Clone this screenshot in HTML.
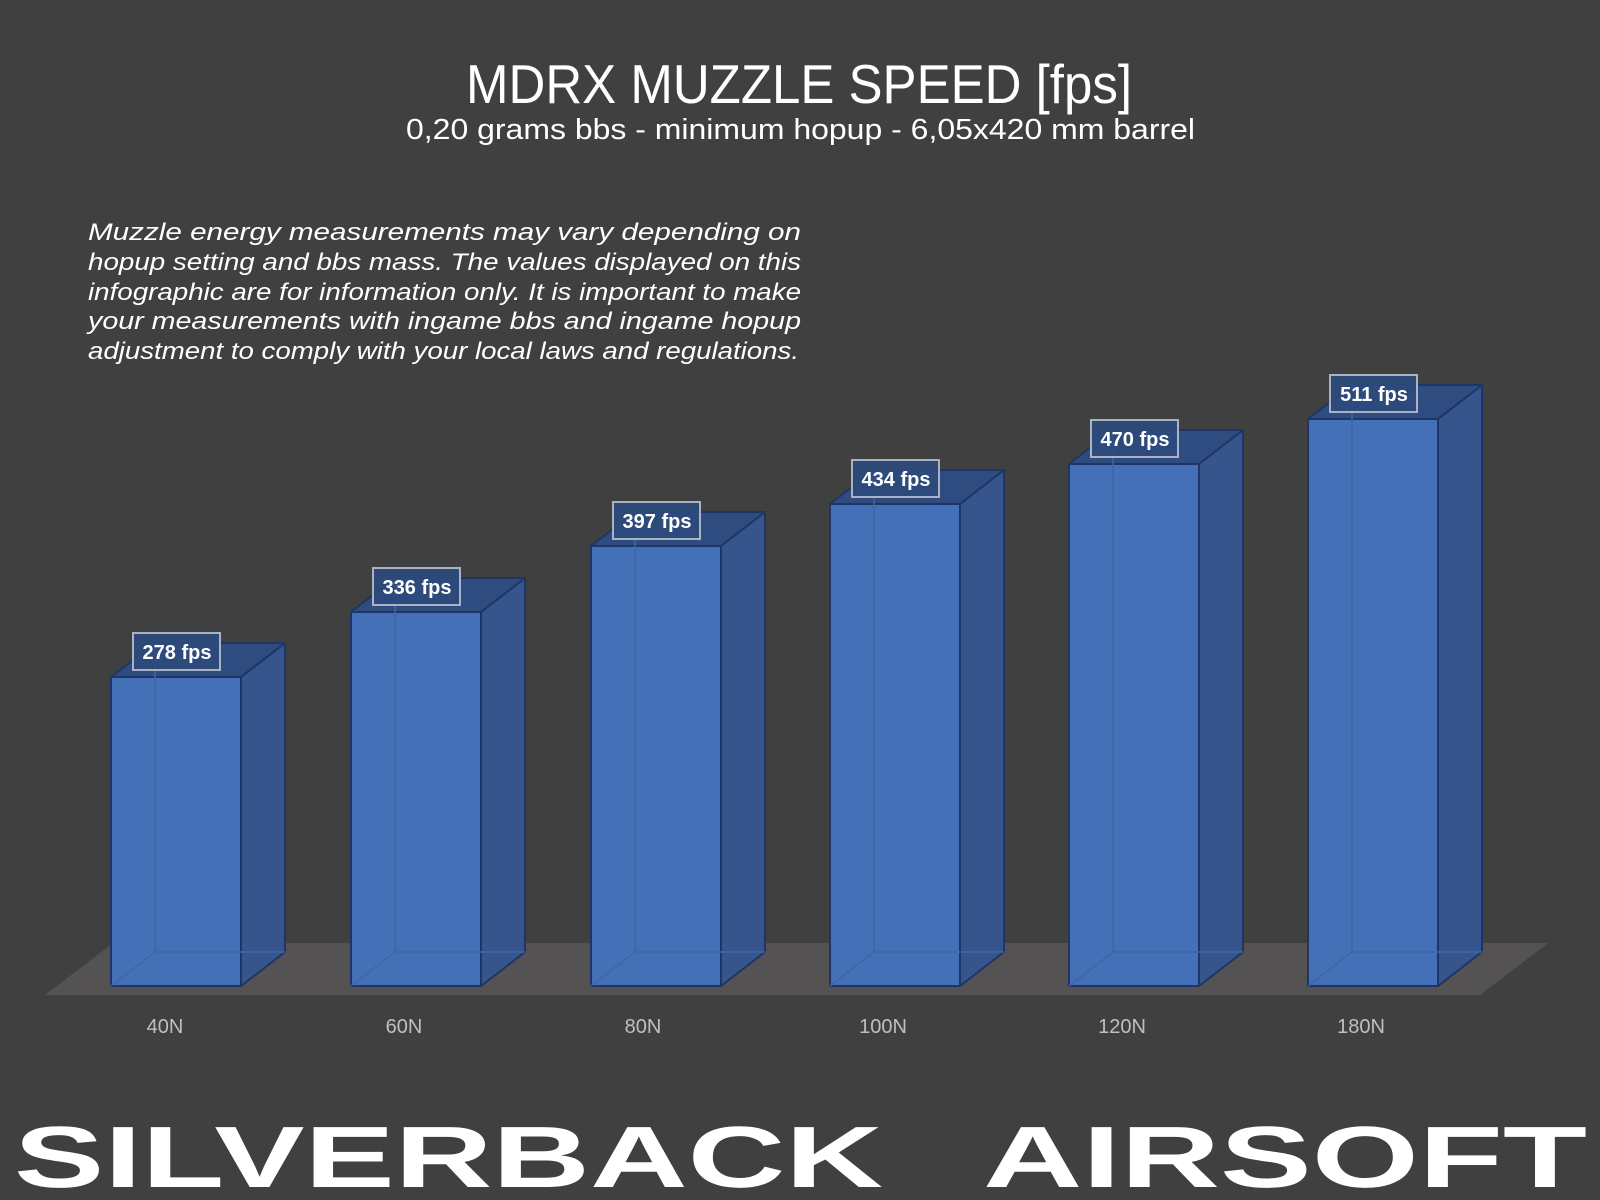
<!DOCTYPE html>
<html><head><meta charset="utf-8"><style>
html,body{margin:0;padding:0;background:#404040;}
svg{display:block;}
</style></head><body>
<svg width="1600" height="1200" viewBox="0 0 1600 1200" xmlns="http://www.w3.org/2000/svg">
<rect width="1600" height="1200" fill="#404040"/>
<text x="466" y="103" font-family="Liberation Sans, sans-serif" font-size="55" fill="#fff" textLength="666" lengthAdjust="spacingAndGlyphs">MDRX MUZZLE SPEED [fps]</text>
<text x="406" y="139" font-family="Liberation Sans, sans-serif" font-size="29" fill="#fff" textLength="789" lengthAdjust="spacingAndGlyphs">0,20 grams bbs - minimum hopup - 6,05x420 mm barrel</text>
<g font-family="Liberation Sans, sans-serif" font-size="24" font-style="italic" fill="#fff">
<text x="88" y="240" textLength="713" lengthAdjust="spacingAndGlyphs">Muzzle energy measurements may vary depending on</text>
<text x="88" y="270" textLength="713" lengthAdjust="spacingAndGlyphs">hopup setting and bbs mass. The values displayed on this</text>
<text x="88" y="300" textLength="713" lengthAdjust="spacingAndGlyphs">infographic are for information only. It is important to make</text>
<text x="88" y="329" textLength="713" lengthAdjust="spacingAndGlyphs">your measurements with ingame bbs and ingame hopup</text>
<text x="88" y="359" textLength="711" lengthAdjust="spacingAndGlyphs">adjustment to comply with your local laws and regulations.</text>
</g>
<polygon points="45,995 1480,995 1548,943 113,943" fill="#545252"/>
<g stroke="#1f3566" stroke-width="2" stroke-linejoin="round">
<polygon points="241,677 285,643 285,952 241,986" fill="#36558c"/>
<polygon points="111,677 155,643 285,643 241,677" fill="#2f4c80"/>
<rect x="111" y="677" width="130" height="309" fill="#4470b8"/>
<path d="M155,643 L155,952 L285,952 M155,952 L111,986" stroke="#3d66aa" stroke-width="1.5" fill="none"/>

<polygon points="481,612 525,578 525,952 481,986" fill="#36558c"/>
<polygon points="351,612 395,578 525,578 481,612" fill="#2f4c80"/>
<rect x="351" y="612" width="130" height="374" fill="#4470b8"/>
<path d="M395,578 L395,952 L525,952 M395,952 L351,986" stroke="#3d66aa" stroke-width="1.5" fill="none"/>

<polygon points="721,546 765,512 765,952 721,986" fill="#36558c"/>
<polygon points="591,546 635,512 765,512 721,546" fill="#2f4c80"/>
<rect x="591" y="546" width="130" height="440" fill="#4470b8"/>
<path d="M635,512 L635,952 L765,952 M635,952 L591,986" stroke="#3d66aa" stroke-width="1.5" fill="none"/>

<polygon points="960,504 1004,470 1004,952 960,986" fill="#36558c"/>
<polygon points="830,504 874,470 1004,470 960,504" fill="#2f4c80"/>
<rect x="830" y="504" width="130" height="482" fill="#4470b8"/>
<path d="M874,470 L874,952 L1004,952 M874,952 L830,986" stroke="#3d66aa" stroke-width="1.5" fill="none"/>

<polygon points="1199,464 1243,430 1243,952 1199,986" fill="#36558c"/>
<polygon points="1069,464 1113,430 1243,430 1199,464" fill="#2f4c80"/>
<rect x="1069" y="464" width="130" height="522" fill="#4470b8"/>
<path d="M1113,430 L1113,952 L1243,952 M1113,952 L1069,986" stroke="#3d66aa" stroke-width="1.5" fill="none"/>

<polygon points="1438,419 1482,385 1482,952 1438,986" fill="#36558c"/>
<polygon points="1308,419 1352,385 1482,385 1438,419" fill="#2f4c80"/>
<rect x="1308" y="419" width="130" height="567" fill="#4470b8"/>
<path d="M1352,385 L1352,952 L1482,952 M1352,952 L1308,986" stroke="#3d66aa" stroke-width="1.5" fill="none"/>
</g>
<g stroke="#a9b3c4" stroke-width="2" fill="#2e4a7c" fill-opacity="0.9">
<rect x="133" y="633" width="87" height="37"/>
<rect x="373" y="568" width="87" height="37"/>
<rect x="613" y="502" width="87" height="37"/>
<rect x="852" y="460" width="87" height="37"/>
<rect x="1091" y="420" width="87" height="37"/>
<rect x="1330" y="375" width="87" height="37"/>
</g>
<g font-family="Liberation Sans, sans-serif" font-weight="bold" font-size="20" fill="#fff" text-anchor="middle">
<text x="177" y="659">278 fps</text>
<text x="417" y="594">336 fps</text>
<text x="657" y="528">397 fps</text>
<text x="896" y="486">434 fps</text>
<text x="1135" y="446">470 fps</text>
<text x="1374" y="401">511 fps</text>
</g>
<g font-family="Liberation Sans, sans-serif" font-size="20" fill="#bfbfbf" text-anchor="middle">
<text x="165" y="1033">40N</text>
<text x="404" y="1033">60N</text>
<text x="643" y="1033">80N</text>
<text x="883" y="1033">100N</text>
<text x="1122" y="1033">120N</text>
<text x="1361" y="1033">180N</text>
</g>
<g font-family="Liberation Sans, sans-serif" font-weight="bold" fill="#fff">
<text x="14" y="1187" font-size="87" textLength="869" lengthAdjust="spacingAndGlyphs">SILVERBACK</text>
<text x="983" y="1187" font-size="87" textLength="604" lengthAdjust="spacingAndGlyphs">AIRSOFT</text>
</g>
</svg>
</body></html>
